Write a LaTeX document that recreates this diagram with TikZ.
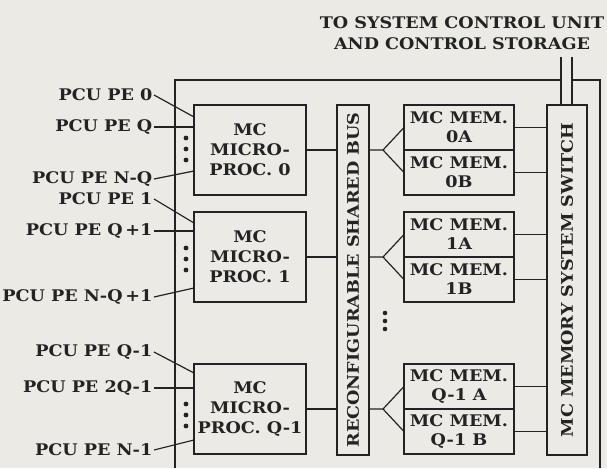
\documentclass[tikz,border=0pt]{standalone}
\usepackage{fontspec}
\usepackage{graphicx}
\setmainfont{DejaVu Serif}[FakeStretch=1.1]
\usetikzlibrary{positioning}
\definecolor{paper}{RGB}{236,234,229}
\definecolor{ink}{RGB}{35,35,35}

\begin{document}
\begin{tikzpicture}[x=1pt, y=-1pt,
    node distance=0pt,
    box/.style={rectangle, draw=ink, line width=1.3pt, outer sep=0pt, inner sep=0pt, align=center, text=ink, font=\fontsize{16}{20}\selectfont\bfseries},
    proc/.style={box, minimum width=112pt, minimum height=90pt},
    mem/.style={box, minimum width=110pt, minimum height=45pt, font=\fontsize{16}{19}\selectfont\bfseries},
    tallbox/.style={box, minimum height=350pt},
    pelabel/.style={anchor=east, inner sep=1.5pt, text=ink, font=\fontsize{16}{20}\selectfont\bfseries},
    wire/.style={draw=ink, line width=1.2pt},
    frame/.style={draw=ink, line width=1.2pt}
]
\useasboundingbox (0,0) rectangle (607,468);
\fill[paper] (0,0) rectangle (607,468);

% heading and frame
\node[pelabel, anchor=center, align=center, font=\fontsize{16}{21}\selectfont\bfseries] (ctl) at (462,33) {TO SYSTEM CONTROL UNIT\\AND CONTROL STORAGE};
\coordinate (up1) at (561,57);
\coordinate (up2) at (572,57);
\draw[frame] (175,468) -- (175,80) -- (up1 |- 0,80);
\draw[frame] (up2 |- 0,80) -- (600,80) -- (600,468);

% micro-processors
\node[proc] (p0) at (250,150) {MC\\MICRO-\\PROC. 0};
\node[proc] (p1) at (250,257) {MC\\MICRO-\\PROC. 1};
\node[proc] (pq) at (250,409) {MC\\MICRO-\\PROC. Q-1};

% bus and switch
\node[tallbox, minimum width=32pt] (bus) at (353,280) {\rotatebox{90}{RECONFIGURABLE SHARED BUS}};
\node[tallbox, minimum width=40pt] (sw) at (567,280) {\rotatebox{90}{MC MEMORY SYSTEM SWITCH}};

% memories
\node[mem] (m0a) at (459,127.5) {MC MEM.\\0A};
\node[mem, below=of m0a] (m0b) {MC MEM.\\0B};
\node[mem] (m1a) at (459,234.5) {MC MEM.\\1A};
\node[mem, below=of m1a] (m1b) {MC MEM.\\1B};
\node[mem] (mqa) at (459,386.5) {MC MEM.\\Q-1 A};
\node[mem, below=of mqa] (mqb) {MC MEM.\\Q-1 B};

% PCU PE inputs
\node[pelabel] (pe0) at (154,95) {PCU PE 0};
\node[pelabel] (peq) at (154,127) {PCU PE Q};
\node[pelabel] (penq) at (154,179) {PCU PE N-Q};
\node[pelabel] (pe1) at (154,199) {PCU PE 1};
\node[pelabel] (peq1) at (154,231) {PCU PE Q\,+1};
\node[pelabel] (penq1) at (154,297) {PCU PE N-Q\,+1};
\node[pelabel] (peqm) at (154,352) {PCU PE Q-1};
\node[pelabel] (pe2q) at (154,388) {PCU PE 2Q-1};
\node[pelabel] (pen1) at (154,450) {PCU PE N-1};

\draw[wire] (pe0.east) -- ([yshift=-12pt]p0.north west);
\draw[wire] (peq.east) -- (peq.east -| p0.west);
\draw[wire] (penq.east) -- ([yshift=24pt]p0.south west);
\draw[wire] (pe1.east) -- ([yshift=-11pt]p1.north west);
\draw[wire] (peq1.east) -- (peq1.east -| p1.west);
\draw[wire] (penq1.east) -- ([yshift=14pt]p1.south west);
\draw[wire] (peqm.east) -- ([yshift=-9pt]pq.north west);
\draw[wire] (pe2q.east) -- (pe2q.east -| pq.west);
\draw[wire] (pen1.east) -- ([yshift=14pt]pq.south west);

% dots
\foreach \y in {138,149,160, 248,259,270, 404,415,426}
  \fill[ink] (186,\y) circle (2.4pt);
\foreach \y in {313,321,329}
  \fill[ink] (385,\y) circle (2.3pt);

% processors to bus
\draw[wire] (p0.east) -- (p0.east -| bus.west);
\draw[wire] (p1.east) -- (p1.east -| bus.west);
\draw[wire] (pq.east) -- (pq.east -| bus.west);

% bus to memories
\coordinate[xshift=14pt] (f0) at (bus.east |- m0a.south);
\coordinate[xshift=14pt] (f1) at (bus.east |- m1a.south);
\coordinate[xshift=14pt] (fq) at (bus.east |- mqa.south);
\draw[wire] (bus.east |- f0) -- (f0) -- (m0a.west);
\draw[wire] (f0) -- (m0b.west);
\draw[wire] (bus.east |- f1) -- (f1) -- (m1a.west);
\draw[wire] (f1) -- (m1b.west);
\draw[wire] (bus.east |- fq) -- (fq) -- (mqa.west);
\draw[wire] (fq) -- (mqb.west);

% memories to switch
\foreach \m in {m0a,m0b,m1a,m1b,mqa,mqb}
  \draw[wire] (\m.east) -- (\m.east -| sw.west);
\draw[wire] (up1) -- (up1 |- sw.north);
\draw[wire] (up2) -- (up2 |- sw.north);

\end{tikzpicture}
\end{document}
